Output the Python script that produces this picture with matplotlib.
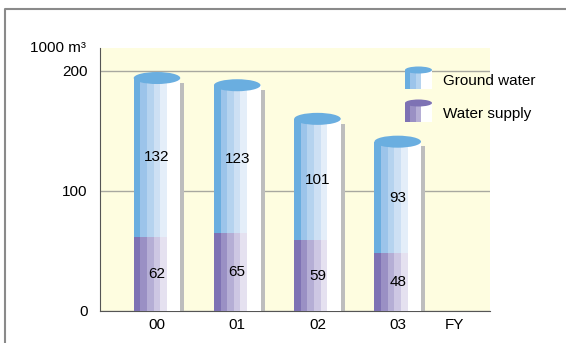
import matplotlib.pyplot as plt
from matplotlib.patches import Ellipse, Rectangle
import numpy as np

years = ['00', '01', '02', '03']
water_supply = [62, 65, 59, 48]
ground_water = [132, 123, 101, 93]

blue_bands = ['#6aaee0', '#9cc4ea', '#b5d3ef', '#cde0f4', '#e4eef9', '#ffffff', '#ffffff']
purple_bands = ['#7e72b4', '#9a90c4', '#b5aed5', '#cdc7e3', '#e5e1f0', '#ffffff', '#ffffff']
blue_top = '#6aaee0'
purple_top = '#7e72b4'

plt.rcParams['font.family'] = ['Liberation Sans', 'DejaVu Sans']

W, H = 566, 343
fig = plt.figure(figsize=(W / 100, H / 100), dpi=100)

ax = fig.add_axes([100 / W, (H - 311) / H, 390 / W, 263 / H])
ax.set_facecolor('#fefde0')
ax.set_xlim(-0.71, 4.15)
ax.set_ylim(0, 219)
ax.set_yticks([0, 100, 200])
ax.yaxis.grid(True, color='#a8a8a0', lw=1)
ax.set_axisbelow(True)
for s in ['top', 'right']:
    ax.spines[s].set_visible(False)
ax.spines['left'].set_color('#555555')
ax.spines['bottom'].set_color('#555555')
ax.tick_params(length=0, labelsize=11)
ax.tick_params(axis='y', pad=9)
ax.tick_params(axis='x', pad=5)
ax.set_xticks(range(len(years)))
ax.set_xticklabels(years)
ax.text(3.71, -12, 'FY', ha='center', va='center', fontsize=11, clip_on=False)
ax.text(-0.035, 1.0, '1000 m³', transform=ax.transAxes, ha='right', va='center',
        fontsize=11)

width = 0.58
n = len(blue_bands)
strip = width / n
x = np.arange(len(years))

for i in range(len(years)):
    ws, gw = water_supply[i], ground_water[i]
    total = ws + gw
    # grey shadow on the right side of each cylinder
    ax.bar(x[i] + width / 2 + 0.025, total - 4, width=0.05, bottom=0,
           color='#bdbdbd', zorder=2)
    for k in range(n):
        xc = x[i] - width / 2 + strip * (k + 0.5)
        ax.bar(xc, ws, width=strip * 1.02, color=purple_bands[k], zorder=3, lw=0)
        ax.bar(xc, gw, width=strip * 1.02, bottom=ws, color=blue_bands[k],
               zorder=3, lw=0)
    ax.add_patch(Ellipse((x[i], total), width, 10, color=blue_top, zorder=4, lw=0))
    ax.text(x[i], ws + gw / 2, str(gw), ha='center', va='center', fontsize=11,
            zorder=5)
    ax.text(x[i], ws / 2, str(ws), ha='center', va='center', fontsize=11, zorder=5)

# Overlay in pixel units for the frame and the legend
over = fig.add_axes([0, 0, 1, 1], facecolor='none')
over.set_xlim(0, W)
over.set_ylim(H, 0)
over.axis('off')
over.plot([5, 5, W], [H, 9, 9], color='#8a8a8a', lw=1.5, solid_capstyle='butt')


def cylinder_icon(x0, y0, bands, top, label):
    w, h = 27, 22
    bw = w / 5
    cols = bands[:3] + ['#ffffff', '#ffffff']
    for k, c in enumerate(cols):
        over.add_patch(Rectangle((x0 + k * bw, y0 + 3), bw + 0.3, h - 3, color=c,
                                 lw=0, zorder=5))
    over.add_patch(Ellipse((x0 + w / 2, y0 + 3), w, 7, color=top, lw=0, zorder=6))
    over.text(x0 + 38, y0 + 14, label, ha='left', va='center', fontsize=11)


cylinder_icon(405, 67, blue_bands, blue_top, 'Ground water')
cylinder_icon(405, 100, purple_bands, purple_top, 'Water supply')

fig.savefig('out.png', dpi=100)
